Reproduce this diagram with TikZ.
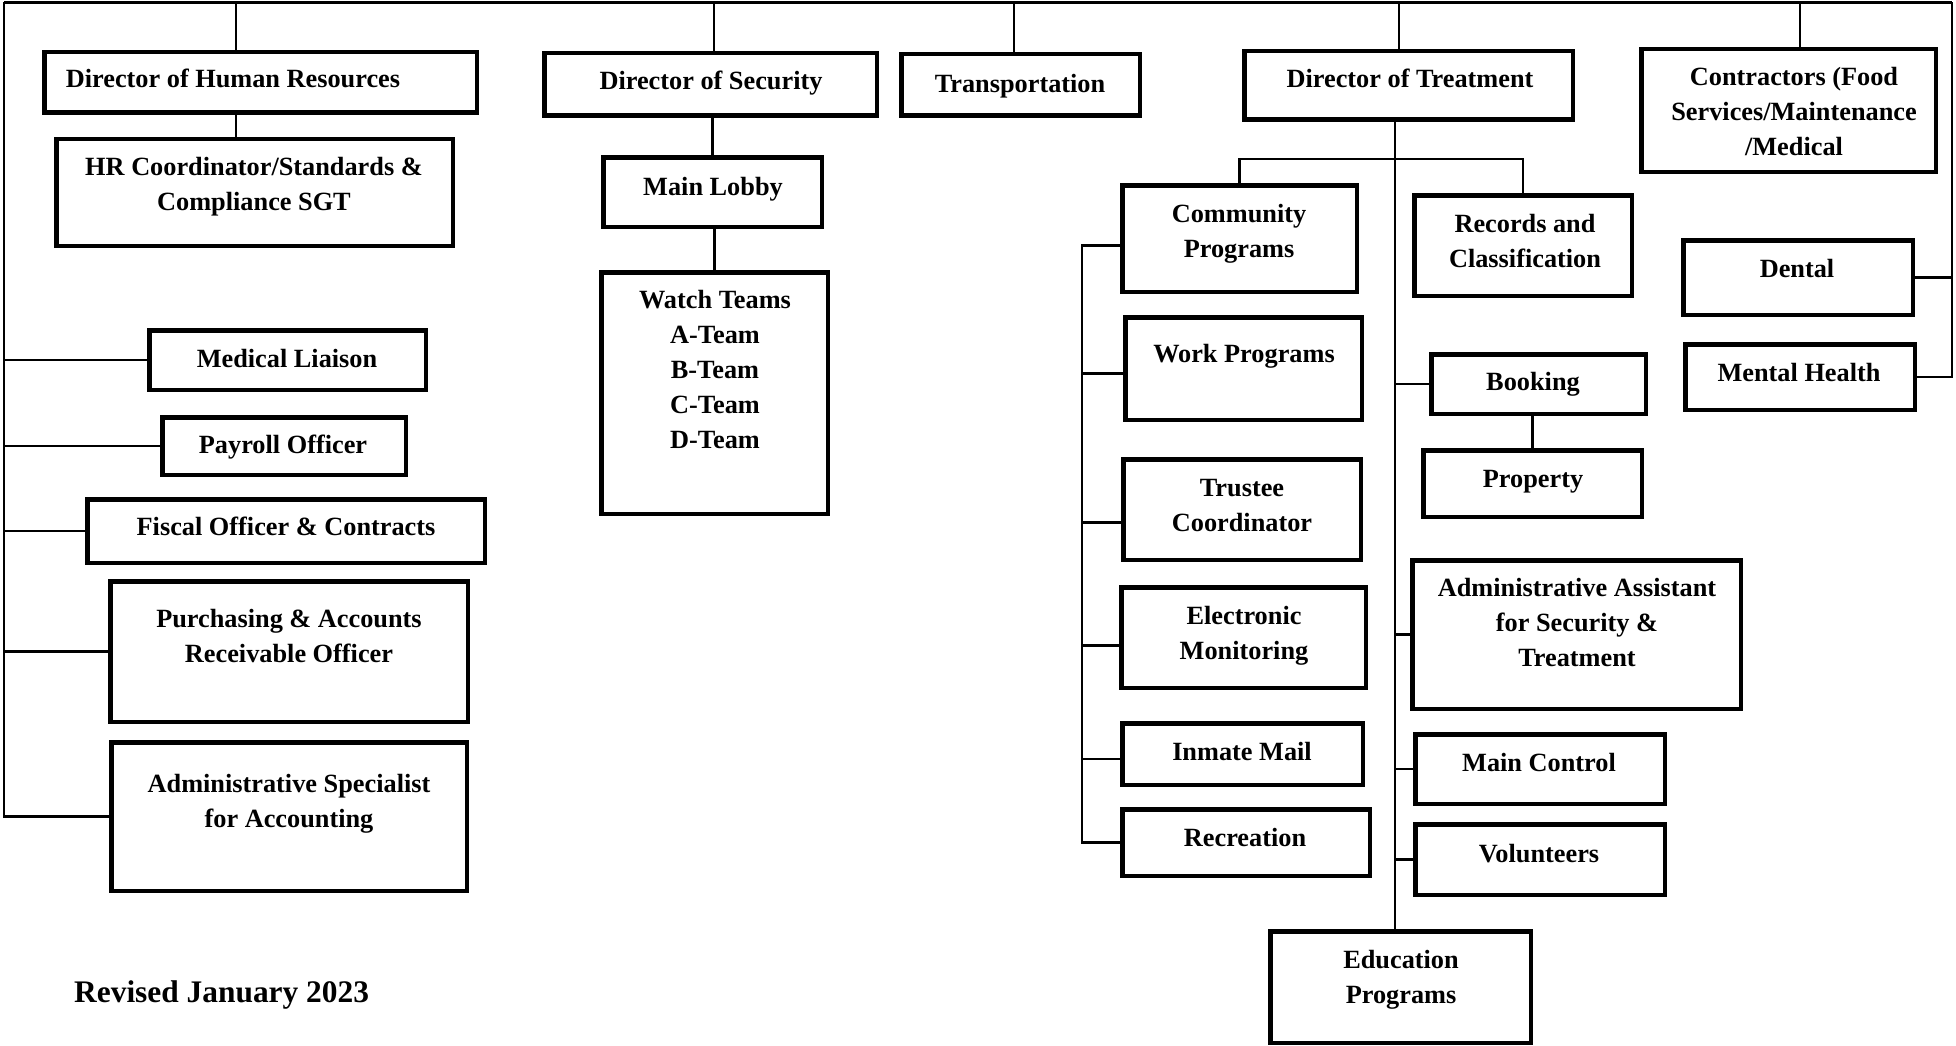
\documentclass[tikz,border=0pt]{standalone}
\usepackage{fontspec}
\setmainfont{Liberation Serif}
\usetikzlibrary{fit}
\newcommand{\mainfnt}{\fontsize{26.3}{35}\selectfont\bfseries}
\newcommand{\obox}[5]{\node[orgbox, fit={(#2+2.25,#3+2.25) (#4-2.25,#5-2.25)}] (#1) {};}
\begin{document}
\begin{tikzpicture}[x=1pt,y=-1pt,
  orgbox/.style={draw, line width=4.5pt, inner sep=0pt, rectangle},
  conn/.style={draw, line width=2.5pt},
  txt/.style={font=\mainfnt, align=center, inner sep=0pt}]
\fill[white] (0,0) rectangle (1956,1046);
\useasboundingbox (0,0) rectangle (1956,1046);

% ---------- boxes ----------
\obox{hr}{42}{50}{479}{115}
\obox{hrc}{54}{137}{455}{248}
\obox{med}{147}{328}{428}{392}
\obox{pay}{160}{415}{408}{477}
\obox{fis}{85}{497}{487}{565}
\obox{pur}{108}{579}{470}{724}
\obox{asp}{109}{740}{469}{893}
\obox{dsec}{542}{51}{879}{118}
\obox{trans}{899}{52}{1142}{118}
\obox{lobby}{601}{155}{824}{229}
\obox{watch}{599}{270}{830}{516}
\obox{dtr}{1242}{49}{1575}{122}
\obox{con}{1639}{47}{1938}{174}
\obox{dent}{1681}{238}{1915}{317}
\obox{mh}{1683}{342}{1917}{412}
\obox{comm}{1120}{183}{1359}{294}
\obox{rec}{1412}{193}{1634}{298}
\obox{work}{1123}{315}{1364}{422}
\obox{book}{1429}{352}{1648}{416}
\obox{prop}{1421}{448}{1644}{519}
\obox{trus}{1121}{457}{1363}{562}
\obox{aa}{1410}{558}{1743}{711}
\obox{elec}{1119}{585}{1368}{690}
\obox{inm}{1120}{721}{1365}{787}
\obox{mc}{1413}{732}{1667}{806}
\obox{recr}{1120}{807}{1372}{878}
\obox{vol}{1413}{822}{1667}{897}
\obox{edu}{1268}{929}{1533}{1045}

% ---------- texts ----------
\node[txt] (tHR) at (233,81) {\strut Director of Human Resources};
\node[txt] (tHRC) at (254,185.5) {\strut HR Coordinator/Standards \&\\\strut Compliance SGT};
\node[txt] (tSec) at (711,83) {\strut Director of Security};
\node[txt] (tTrans) at (1020,86) {\strut Transportation};
\node[txt] (tTreat) at (1410,81) {\strut Director of Treatment};
\node[txt] (tCon) at (1794,113.5) {\strut Contractors (Food\\\strut Services/Maintenance\\\strut /Medical};
\node[txt] (tLobby) at (713,188) {\strut Main Lobby};
\node[txt] (tWatch) at (715,371.5) {\strut Watch Teams\\\strut A-Team\\\strut B-Team\\\strut C-Team\\\strut D-Team};
\node[txt] (tMed) at (287,360) {\strut Medical Liaison};
\node[txt] (tPay) at (283,446) {\strut Payroll Officer};
\node[txt] (tFis) at (286,528) {\strut Fiscal Officer \& Contracts};
\node[txt] (tPur) at (289,637.5) {\strut Purchasing \& Accounts\\\strut Receivable Officer};
\node[txt] (tAsp) at (289,802.5) {\strut Administrative Specialist\\\strut for Accounting};
\node[txt] (tComm) at (1239,232.5) {\strut Community\\\strut Programs};
\node[txt] (tRec) at (1525,242.5) {\strut Records and\\\strut Classification};
\node[txt] (tWork) at (1244,355) {\strut Work Programs};
\node[txt] (tDent) at (1797,270) {\strut Dental};
\node[txt] (tMH) at (1799,374) {\strut Mental Health};
\node[txt] (tBook) at (1533,383) {\strut Booking};
\node[txt] (tProp) at (1533,480) {\strut Property};
\node[txt] (tTrus) at (1242,506.5) {\strut Trustee\\\strut Coordinator};
\node[txt] (tAA) at (1577,624) {\strut Administrative Assistant\\\strut for Security \&\\\strut Treatment};
\node[txt] (tElec) at (1244,635) {\strut Electronic\\\strut Monitoring};
\node[txt] (tInm) at (1242,753) {\strut Inmate Mail};
\node[txt] (tMC) at (1539,764) {\strut Main Control};
\node[txt] (tRecr) at (1245,839) {\strut Recreation};
\node[txt] (tVol) at (1539,855) {\strut Volunteers};
\node[txt] (tEdu) at (1401,978.5) {\strut Education\\\strut Programs};
\node[inner sep=0pt, anchor=base west, font=\fontsize{31.4}{37}\selectfont\bfseries] (rev) at (74,1002) {Revised January 2023};

% ---------- bus coordinates ----------
\coordinate (tl) at (4,2.5);
\coordinate (tr) at (1952,2.5);
\coordinate (dHR) at (236,2.5);
\coordinate (dSec) at (714,2.5);
\coordinate (dTr) at (1014,2.5);
\coordinate (dTreat) at (1399,2.5);
\coordinate (dCon) at (1800,2.5);
\coordinate (cT) at (1395,0);
\coordinate (cS) at (1082,0);

% ---------- connectors ----------
\draw[conn] (tl) -- (tr);
\draw[conn] (dHR) -- (dHR |- hr.north);
\draw[conn] (dSec) -- (dSec |- dsec.north);
\draw[conn] (dTr) -- (dTr |- trans.north);
\draw[conn] (dTreat) -- (dTreat |- dtr.north);
\draw[conn] (dCon) -- (dCon |- con.north);

% HR column
\draw[conn] (dHR |- hr.south) -- (dHR |- hrc.north);
\draw[conn] (tl) -- (tl |- asp.west) -- (asp.west);
\draw[conn] (med.west) -- (med.west -| tl);
\draw[conn] (pay.west) -- (pay.west -| tl);
\draw[conn] (fis.west) -- (fis.west -| tl);
\draw[conn] (pur.west) -- (pur.west -| tl);

% Security column
\draw[conn] (lobby.north |- dsec.south) -- (lobby.north);
\draw[conn] (watch.north |- lobby.south) -- (watch.north);

% Contractors
\draw[conn] (tr) -- (tr |- mh.east) -- (mh.east);
\draw[conn] (dent.east) -- (dent.east -| tr);

% Treatment
\draw[conn] (cT |- dtr.south) -- (cT |- edu.north);
\draw[conn] (comm.north) -- ++(0,-24) -| (rec.north);
\draw[conn] (book.west) -- (book.west -| cT);
\draw[conn] (aa.west) -- (aa.west -| cT);
\draw[conn] (mc.west) -- (mc.west -| cT);
\draw[conn] (vol.west) -- (vol.west -| cT);
\draw[conn] (prop.north |- book.south) -- (prop.north);

\coordinate (commC) at ([yshift=-7pt]comm.west);
\coordinate (workC) at ([yshift=-5pt]work.west);
\coordinate (trusC) at ([yshift=-13pt]trus.west);
\coordinate (elecC) at ([yshift=-8pt]elec.west);
\coordinate (inmC) at ([yshift=-5pt]inm.west);
\draw[conn] (commC) -- (commC -| cS) -- (cS |- recr.west) -- (recr.west);
\draw[conn] (workC) -- (workC -| cS);
\draw[conn] (trusC) -- (trusC -| cS);
\draw[conn] (elecC) -- (elecC -| cS);
\draw[conn] (inmC) -- (inmC -| cS);
\end{tikzpicture}
\end{document}
